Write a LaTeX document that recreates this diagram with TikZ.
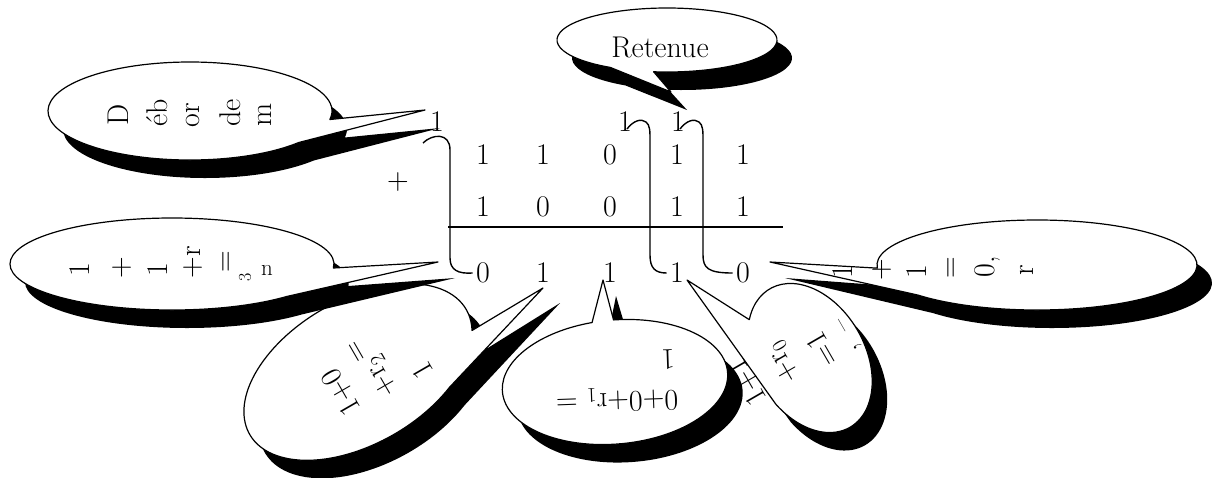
\documentclass[tikz,border=0pt]{standalone}
\usepackage{fontspec}
\usepackage{tikz}

\tikzset{
  bulle/.style={draw=black, fill=white, line width=1.2pt},
  ombre/.style={fill=black},
  crochet/.style={line width=1.4pt},
  texte/.style={inner sep=0pt},
  petit/.style={inner sep=0pt, font=\fontsize{18}{20}\selectfont},
}

% bulle: centre x, centre y, rayon x, rayon y, rotation, angle debut, angle fin, pointe, pointe de l'ombre
\newcommand{\bulle}[9]{%
  \begin{scope}[shift={(#1+15,#2+18)},rotate=#5]
    \fill[ombre] (#6:#3 and #4) arc[start angle=#6,end angle=#7,x radius=#3,y radius=#4] -- (#9) -- cycle;
  \end{scope}
  \begin{scope}[shift={(#1,#2)},rotate=#5]
    \filldraw[bulle] (#6:#3 and #4) arc[start angle=#6,end angle=#7,x radius=#3,y radius=#4] -- (#8) -- cycle;
  \end{scope}}

\begin{document}
\begin{tikzpicture}[x=1pt, y=-1pt, font=\fontsize{30}{36}\selectfont, line join=round]
    \useasboundingbox (0,0) rectangle (1223,477);

    % pointes des bulles
    \coordinate (pD) at (425,110);  \coordinate (pDs) at (440,128);
    \coordinate (pR) at (671,92);   \coordinate (pRs) at (687,110);
    \coordinate (pG) at (438,262);  \coordinate (pGs) at (455,278);
    \coordinate (pH) at (770,262);  \coordinate (pHs) at (785,278);
    \coordinate (pA) at (543,288);  \coordinate (pAs) at (560,303);
    \coordinate (pB) at (603,280);  \coordinate (pBs) at (616,296);
    \coordinate (pC) at (687,280);  \coordinate (pCs) at (702,298);

    % bulle 1+0
    \bulle{358}{372}{125}{72}{30}{55}{377}{pA}{pAs}
    \node[texte,rotate=120] (e1) at (341,392) {1+0};
    \node[texte,rotate=120] (e2) at (358,351) {=};
    \node[texte,rotate=120] (e3) at (382,376) {+r\textsubscript{2}};
    \node[texte,rotate=120] (e5) at (422,370) {1};

    % bulle 0+0
    \bulle{615}{382}{113}{62}{5}{272}{621}{pB}{pBs}
    \node[texte,rotate=182] (f1) at (617,400) {0+0+r\textsubscript{1} =};
    \node[texte,rotate=182] (f2) at (668,360) {1};

    % bulle 1+1+r0
    \bulle{810}{358}{80}{55}{-60}{142.6}{433.3}{pC}{pCs}
    \node[texte,rotate=120] (g1) at (747,382) {1+1};
    \node[texte,rotate=120] (g2) at (784,362) {+r\textsubscript{0}};
    \node[texte,rotate=120] (g4) at (822,350) {=1};
    \node[texte,rotate=120] (g5) at (858,346) {,};
    \node[texte,rotate=120] (g6) at (845,324) {\textendash};

    % bulle gauche
    \bulle{172}{264}{162}{46}{0}{45}{365}{pG}{pGs}
    \node[texte,rotate=90] (h1) at (80,270) {1};
    \node[texte,rotate=90] (h2) at (122,268) {+};
    \node[texte,rotate=90] (h3) at (158,270) {1};
    \node[texte,rotate=90] (h4) at (193,262) {+r};
    \node[texte,rotate=90] (h5) at (228,262) {=};
    \node[petit,rotate=90] (h6) at (245,277) {3};
    \node[texte,font=\fontsize{23}{26}\selectfont] (h7) at (267,270) {n};

    % bulle droite
    \bulle{1037}{265}{160}{45}{0}{176}{498}{pH}{pHs}
    \node[texte,rotate=90] (k1) at (843,272) {1};
    \node[texte,rotate=90] (k2) at (882,270) {+};
    \node[texte,rotate=90] (k3) at (917,272) {1};
    \node[texte,rotate=90] (k4) at (953,268) {=};
    \node[texte,rotate=90] (k5) at (987,267) {0,};
    \node[texte,rotate=90] (k6) at (1027,270) {r};

    % bulle debordement
    \bulle{190}{111}{142}{49}{0}{40}{370}{pD}{pDs}
    \node[texte,rotate=90] (d1) at (118,115) {D};
    \node[texte,rotate=90] (d2) at (157,113) {éb};
    \node[texte,rotate=90] (d3) at (193,115) {or};
    \node[texte,rotate=90] (d4) at (230,113) {de};
    \node[texte,rotate=90] (d5) at (265,115) {m};

    % bulle retenue
    \bulle{667}{40}{110}{32}{0}{121}{457}{pR}{pRs}
    \node (ret) at (660,47) {Retenue};

    % addition
    \node (c1) at (437,122) {1};
    \node (c4) at (625,122) {1};
    \node (c5) at (678,122) {1};
    \foreach \x/\a/\b/\s [count=\i] in {483/1/1/0, 543/1/0/1, 610/0/0/1, 677/1/1/1, 743/1/1/0} {
        \node (a\i) at (\x,155) {\a};
        \node (b\i) at (\x,207) {\b};
        \node (s\i) at (\x,273) {\s};
    }
    \node (plus) at (398,182) {+};
    \draw[line width=2pt] (448,227) -- (783,227);

    % retenues
    \draw[crochet] ([shift={(-14,21)}]c1.center) .. controls (432,134) and (450,132) .. (450,150)
        -- (450,258) .. controls (450,270) and (458,274) .. (s1.west);
    \draw[crochet] ([shift={(2,7)}]c4.center) .. controls (633,121) and (641,118) .. (646,122)
        .. controls (650,125) and (650,131) .. (650,140)
        -- (650,255) .. controls (650,268) and (655,273) .. (s4.west);
    \draw[crochet] ([shift={(2,7)}]c5.center) .. controls (686,121) and (694,118) .. (699,122)
        .. controls (703,125) and (703,131) .. (703,140)
        -- (703,255) .. controls (703,268) and (708,273) .. (s5.west);
\end{tikzpicture}
\end{document}
